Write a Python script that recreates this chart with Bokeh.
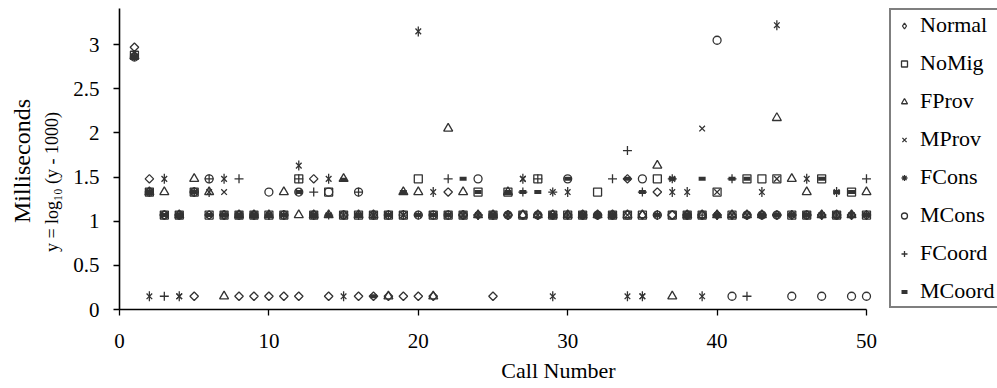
import math
from bokeh.plotting import figure
from bokeh.models import (Range1d, FixedTicker, NumeralTickFormatter, Legend,
                          LegendItem, ColumnDataSource, LinearAxis)
from bokeh.embed import file_html
from bokeh.resources import INLINE

# ---------------- data (log10(ms - 1000)) ----------------
calls = list(range(1, 51))
x_ticks = [0, 10, 20, 30, 40, 50]
y_ticks = [0, 0.5, 1, 1.5, 2, 2.5, 3]

normal = [2.97, 1.48, 1.07, 1.07, 0.15, 1.07, 1.07, 0.15, 0.15, 0.15,
          0.15, 0.15, 1.48, 0.15, 1.07, 0.15, 0.15, 0.15, 0.15, 0.15,
          0.15, 1.33, 1.07, 1.07, 0.15, 1.07, 1.07, 1.07, 1.07, 1.07,
          1.07, 1.07, 1.07, 1.48, 1.07, 1.33, 1.07, 1.07, 1.07, 1.07,
          1.07, 1.07, 1.07, 1.07, 1.07, 1.07, 1.07, 1.07, 1.07, 1.07]
nomig = [2.88, 1.33, 1.07, 1.07, 1.33, 1.07, 1.07, 1.07, 1.07, 1.07,
         1.07, 1.48, 1.07, 1.33, 1.07, 1.07, 1.07, 1.07, 1.07, 1.48,
         1.07, 1.07, 1.07, 1.33, 1.07, 1.33, 1.07, 1.48, 1.07, 1.07,
         1.07, 1.33, 1.07, 1.07, 1.07, 1.48, 1.07, 1.07, 1.07, 1.33,
         1.07, 1.48, 1.48, 1.48, 1.07, 1.07, 1.48, 1.07, 1.33, 1.07]
fprov = [2.87, 1.33, 1.33, 1.07, 1.48, 1.33, 0.15, 1.07, 1.07, 1.07,
         1.33, 1.07, 1.07, 1.07, 1.48, 1.07, 1.07, 0.15, 1.33, 1.33,
         0.15, 2.05, 1.33, 1.07, 1.07, 1.33, 1.07, 1.07, 1.07, 1.07,
         1.07, 1.07, 1.07, 1.07, 1.07, 1.63, 0.15, 1.07, 1.07, 1.07,
         1.07, 1.07, 1.07, 2.17, 1.48, 1.33, 1.07, 1.07, 1.07, 1.33]
mprov = [2.86, 1.33, 1.07, 0.15, 1.33, 1.07, 1.33, 1.07, 1.07, 1.07,
         1.07, 1.33, 1.07, 1.07, 1.07, 1.07, 1.07, 1.07, 1.07, 1.07,
         1.07, 1.07, 1.07, 1.07, 1.07, 1.07, 1.48, 1.07, 1.33, 1.07,
         1.07, 1.07, 1.07, 1.07, 0.15, 1.07, 1.48, 1.07, 2.05, 1.33,
         1.07, 1.07, 1.07, 1.48, 1.07, 1.07, 1.07, 1.07, 1.07, 1.07]
fcons = [2.87, 0.15, 1.48, 0.15, 1.33, 1.33, 1.48, 1.07, 1.07, 1.07,
         1.07, 1.63, 1.07, 1.48, 0.15, 1.07, 1.07, 1.07, 1.07, 3.15,
         1.33, 1.07, 1.07, 1.07, 1.07, 1.07, 1.48, 1.07, 0.15, 1.33,
         1.07, 1.07, 1.07, 0.15, 0.15, 1.07, 1.33, 1.33, 0.15, 1.07,
         1.07, 1.07, 1.33, 3.22, 1.07, 1.48, 1.07, 1.33, 1.07, 1.07]
mcons = [2.86, 1.33, 1.07, 1.07, 1.33, 1.48, 1.07, 1.07, 1.07, 1.33,
         1.07, 1.33, 1.07, 1.33, 1.07, 1.33, 1.07, 1.07, 1.07, 1.07,
         1.07, 1.07, 1.07, 1.48, 1.07, 1.07, 1.07, 1.07, 1.07, 1.48,
         1.07, 1.07, 1.07, 1.07, 1.48, 1.07, 1.07, 1.07, 1.07, 3.05,
         0.15, 1.07, 1.07, 1.07, 0.15, 1.07, 0.15, 1.07, 0.15, 0.15]
fcoord = [2.88, 1.33, 0.15, 1.07, 1.33, 1.48, 1.07, 1.48, 1.07, 1.07,
          1.07, 1.48, 1.33, 1.07, 1.07, 1.33, 1.07, 1.07, 1.07, 1.07,
          1.07, 1.48, 1.07, 1.07, 1.07, 1.07, 1.33, 1.48, 1.33, 1.07,
          1.07, 1.07, 1.48, 1.80, 1.33, 1.07, 1.48, 1.07, 1.07, 1.07,
          1.48, 0.15, 1.07, 1.07, 1.07, 1.07, 1.07, 1.07, 1.07, 1.48]
mcoord = [2.85, 1.33, 1.07, 1.07, 1.33, 1.07, 1.07, 1.07, 1.07, 1.07,
          1.07, 1.33, 1.07, 1.07, 1.47, 1.07, 0.15, 1.07, 1.33, 1.07,
          1.07, 1.07, 1.48, 1.33, 1.07, 1.33, 1.33, 1.33, 1.07, 1.48,
          1.07, 1.07, 1.07, 1.48, 1.33, 1.07, 1.48, 1.07, 1.48, 1.07,
          1.48, 1.48, 1.07, 1.07, 1.07, 1.07, 1.48, 1.33, 1.33, 1.07]

series_names = ["Normal", "NoMig", "FProv", "MProv", "FCons", "MCons", "FCoord", "MCoord"]
y_title_1 = "Milliseconds"
y_title_2 = "y = log\u2081\u2080 (y - 1000)"
x_title = "Call Number"

# ---------------- style ----------------
FONT = "Liberation Serif"
INK = "#333333"
LW = 1.3
NB = "\u00a0"

src = ColumnDataSource(dict(call=calls, normal=normal, nomig=nomig, fprov=fprov,
                            mprov=mprov, fcons=fcons, mcons=mcons,
                            fcoord=fcoord, mcoord=mcoord))

# frame spans x 119..997 px and y 0..313 px; axes drawn only over the data extent
p = figure(width=997, height=385, output_backend="svg", toolbar_location=None,
           x_range=Range1d(0, 58.77), y_range=Range1d(0, 3.5),
           min_border_left=119, min_border_right=0,
           min_border_top=0, min_border_bottom=72)
p.outline_line_color = None
p.grid.visible = False

for ax in (p.xaxis[0], p.yaxis[0]):
    ax.axis_line_color = "black"
    ax.axis_line_width = 1.6
    ax.major_tick_line_color = "black"
    ax.major_tick_line_width = 1.3
    ax.major_tick_out = 6
    ax.major_tick_in = 0
    ax.minor_tick_line_color = None
    ax.major_label_text_font = FONT
    ax.major_label_text_font_size = "21px"
    ax.major_label_text_color = "black"

p.xaxis.ticker = FixedTicker(ticks=x_ticks)
p.xaxis.bounds = (0, 50)
p.xaxis.major_label_standoff = 18
p.xaxis.axis_label = x_title
p.xaxis.axis_label_text_font = FONT
p.xaxis.axis_label_text_font_size = "22px"
p.xaxis.axis_label_text_font_style = "normal"
p.xaxis.axis_label_text_color = "black"
p.xaxis.axis_label_standoff = 7

p.yaxis.ticker = FixedTicker(ticks=y_ticks)
p.yaxis.bounds = (0, 3.41)
p.yaxis.formatter = NumeralTickFormatter(format="0.[0]")
p.yaxis.major_label_standoff = 14


def title_axis(text, size, standoff):
    ax = LinearAxis(ticker=FixedTicker(ticks=[]), axis_line_color=None,
                    major_tick_line_color=None, minor_tick_line_color=None,
                    major_tick_out=0, major_tick_in=0, major_label_standoff=0,
                    major_label_text_font_size="0px",
                    axis_label=text, axis_label_text_font=FONT,
                    axis_label_text_font_size=size,
                    axis_label_text_font_style="normal",
                    axis_label_text_color="black",
                    axis_label_standoff=standoff)
    p.add_layout(ax, "left")


title_axis(y_title_2 + NB * 12, "18px", 9)
title_axis(y_title_1 + NB * 2, "24px", 4)

common = dict(source=src, line_color=INK, line_width=LW)
r_normal = p.scatter("call", "normal", marker="square", angle=math.pi / 4, size=6,
                     fill_color=None, **common)
r_nomig = p.scatter("call", "nomig", marker="square", size=8, fill_color=None, **common)
r_fprov = p.scatter("call", "fprov", marker="triangle", size=9, fill_color=None, **common)
r_mprov = p.scatter("call", "mprov", marker="x", size=8, **common)
r_fcons_x = p.scatter("call", "fcons", marker="x", size=8, **common)
r_fcons_v = p.scatter("call", "fcons", marker="dash", angle=math.pi / 2, size=10, **common)
r_mcons = p.scatter("call", "mcons", marker="circle", size=8, fill_color=None, **common)
r_fcoord = p.scatter("call", "fcoord", marker="cross", size=9, **common)
r_mcoord = p.scatter("call", "mcoord", marker="dash", size=7, source=src,
                     line_color=INK, line_width=4)

# legend-only glyphs (placed outside the visible ranges)
d_normal = p.scatter(x=[-10], y=[-10], marker="diamond", size=6, fill_color=None,
                     line_color=INK, line_width=LW)
d_fcons = p.scatter(x=[-10], y=[-10], marker="asterisk", size=6,
                    line_color=INK, line_width=LW)

legend = Legend(items=[
    LegendItem(label=series_names[0], renderers=[d_normal]),
    LegendItem(label=series_names[1], renderers=[r_nomig]),
    LegendItem(label=series_names[2], renderers=[r_fprov]),
    LegendItem(label=series_names[3], renderers=[r_mprov]),
    LegendItem(label=series_names[4], renderers=[d_fcons]),
    LegendItem(label=series_names[5], renderers=[r_mcons]),
    LegendItem(label=series_names[6], renderers=[r_fcoord]),
    LegendItem(label=series_names[7], renderers=[r_mcoord]),
], location=(770, 1), margin=0, padding=2, spacing=12,
   glyph_width=22, glyph_height=15, label_standoff=5, label_width=76,
   label_text_font=FONT, label_text_font_size="22px", label_text_color="black",
   border_line_color="black", border_line_width=2, background_fill_color="white",
   background_fill_alpha=1.0)
p.add_layout(legend, "center")

open("out.html", "w").write(file_html(p, INLINE))
